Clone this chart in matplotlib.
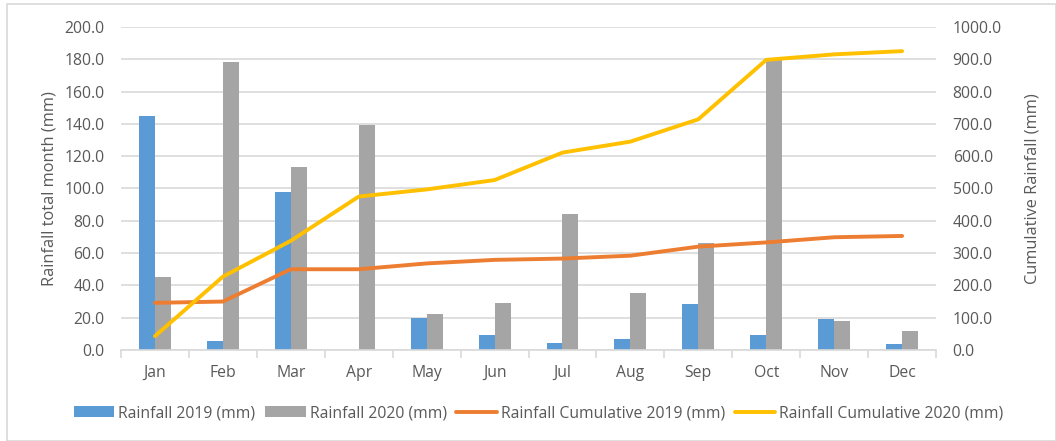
import matplotlib
matplotlib.use("Agg")
import matplotlib.pyplot as plt
import numpy as np
from matplotlib.patches import Rectangle

months = ["Jan", "Feb", "Mar", "Apr", "May", "Jun", "Jul", "Aug", "Sep", "Oct", "Nov", "Dec"]
rain_2019 = [145.0, 5.5, 98.0, 0.0, 20.0, 9.5, 4.5, 7.0, 28.5, 9.5, 19.5, 3.5]
rain_2020 = [45.0, 178.0, 113.0, 139.0, 22.0, 29.0, 84.0, 35.5, 66.0, 181.0, 18.0, 12.0]
cum_2019 = [146, 150, 250, 250, 268, 279, 283, 292, 320, 333, 349, 353]
cum_2020 = [43, 227, 338, 475, 497, 526, 611, 645, 714, 898, 915, 925]

plt.rcParams['font.family'] = ['Open Sans', 'DejaVu Sans']
txt = '#595959'
grid = '#d9d9d9'
fs = 11.3

fig = plt.figure(figsize=(10.56, 4.41), dpi=100)
fig.patches.append(Rectangle((0.007, 0.0), 0.993, 0.99, transform=fig.transFigure,
                             fill=False, edgecolor='#d9d9d9', linewidth=1.2))
ax = fig.add_axes([0.1146, 0.2063, 0.7718, 0.7327])
x = np.arange(len(months))
w = 0.235
ax.bar(x - w/2, rain_2019, w, color='#5B9BD5', label='Rainfall 2019 (mm)', zorder=2)
ax.bar(x + w/2, rain_2020, w, color='#A5A5A5', label='Rainfall 2020 (mm)', zorder=2)
ax.set_xlim(-0.5, 11.5)
ax.set_ylim(0, 200)
ax.set_yticks(np.arange(0, 201, 20))
ax.set_yticklabels([f"{v:.1f}" for v in np.arange(0, 201, 20)])
ax.yaxis.grid(True, color=grid, linewidth=1.2, zorder=0)
ax.set_axisbelow(True)
ax.set_xticks(x)
ax.set_xticklabels(months)
ax.set_xticks(np.arange(-0.5, 12, 1), minor=True)
ax.tick_params(axis='x', which='major', length=0, pad=11, labelcolor=txt, labelsize=fs)
ax.tick_params(axis='x', which='minor', length=6, color=grid, width=1.2)
ax.tick_params(axis='y', length=0, labelcolor=txt, labelsize=fs, pad=12)
for s in ['top', 'right', 'left']:
    ax.spines[s].set_visible(False)
ax.spines['bottom'].set_color(grid)
ax.spines['bottom'].set_linewidth(1.2)
ax.set_ylabel('Rainfall total month (mm)', color=txt, fontsize=fs + 0.5, labelpad=5)

ax2 = ax.twinx()
ax2.plot(x, cum_2019, color='#ED7D31', linewidth=2.8, label='Rainfall Cumulative 2019 (mm)', solid_capstyle='round')
ax2.plot(x, cum_2020, color='#FFC000', linewidth=2.8, label='Rainfall Cumulative 2020 (mm)', solid_capstyle='round')
ax2.set_ylim(0, 1000)
ax2.set_yticks(np.arange(0, 1001, 100))
ax2.set_yticklabels([f"{v:.1f}" for v in np.arange(0, 1001, 100)])
ax2.tick_params(axis='y', length=0, labelcolor=txt, labelsize=fs, pad=12)
for s in ['top', 'right', 'left', 'bottom']:
    ax2.spines[s].set_visible(False)
ax2.set_ylabel('Cumulative Rainfall (mm)', color=txt, fontsize=fs + 0.5, labelpad=16)

h1, l1 = ax.get_legend_handles_labels()
h2, l2 = ax2.get_legend_handles_labels()
fig.legend(h1 + h2, l1 + l2, loc='center', bbox_to_anchor=(0.51, 0.063), ncol=4,
           frameon=False, fontsize=fs, labelcolor=txt, handlelength=2.6,
           handletextpad=0.25, columnspacing=0.6)

fig.savefig('out.png', dpi=100)
